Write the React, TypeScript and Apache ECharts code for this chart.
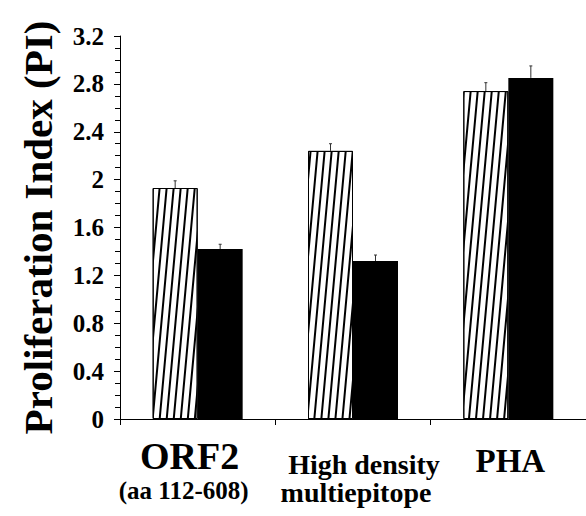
import React, { useEffect, useRef } from "react";
import * as echarts from "echarts";

const categories = ["ORF2", "High density", "PHA"];
const subLabels = ["(aa 112-608)", "multiepitope", ""];
const yTicks = { min: 0, max: 3.2, interval: 0.4 };
const hatchedValues = [1.93, 2.24, 2.74];
const hatchedErrors = [0.06, 0.06, 0.07];
const solidValues = [1.42, 1.32, 2.85];
const solidErrors = [0.04, 0.05, 0.1];
const yAxisTitle = "Proliferation Index (PI)";

const FONT = "'Liberation Serif', 'Times New Roman', serif";

export default function App() {
  const ref = useRef<HTMLDivElement>(null);
  useEffect(() => {
    document.body.style.margin = "0";
    if (!ref.current) return;
    const chart = echarts.init(ref.current, null, { renderer: "svg" });

    const errData = (vals: number[], errs: number[]) =>
      vals.map((v, i) => [i, v, errs[i]]);

    const makeErr = (offset: number) => (params: any, api: any) => {
      const i = api.value(0);
      const v = api.value(1);
      const e = api.value(2);
      const p0 = api.coord([i, v]);
      const p1 = api.coord([i, v + e]);
      const x = p0[0] + offset;
      return {
        type: "group",
        children: [
          {
            type: "line",
            shape: { x1: x, y1: p0[1], x2: x, y2: p1[1] },
            style: { stroke: "#333", lineWidth: 1 },
          },
          {
            type: "line",
            shape: { x1: x - 1.5, y1: p1[1], x2: x + 1.5, y2: p1[1] },
            style: { stroke: "#333", lineWidth: 1 },
          },
        ],
      };
    };

    chart.setOption({
      animation: false,
      backgroundColor: "#fff",
      grid: {
        left: 120,
        right: 0,
        top: 36,
        bottom: 97,
        outerBoundsMode: "none",
      },
      xAxis: {
        type: "category",
        data: categories,
        axisLine: { lineStyle: { color: "#000", width: 1 } },
        axisTick: { show: true, length: 6, lineStyle: { color: "#000" } },
        axisLabel: {
          margin: 26,
          interval: 0,
          color: "#000",
          fontFamily: FONT,
          fontWeight: "bold",
          formatter: (val: string, idx: number) => {
            if (idx === 0) return `{a|${val}}\n{b|${subLabels[idx]}}`;
            if (idx === 1) return `{c|${val}}\n{d|${subLabels[idx]}}`;
            return `{p|${val}}`;
          },
          rich: {
            a: { fontSize: 38, lineHeight: 22, fontWeight: "bold", fontFamily: FONT, color: "#000", padding: [0, 16, 0, 0] },
            b: { fontSize: 25, lineHeight: 46, fontWeight: "bold", fontFamily: FONT, color: "#000", padding: [0, 28, 0, 0] },
            c: { fontSize: 28, lineHeight: 38, fontWeight: "bold", fontFamily: FONT, color: "#000", padding: [0, 0, 0, 22] },
            d: { fontSize: 28, lineHeight: 18, fontWeight: "bold", fontFamily: FONT, color: "#000", padding: [0, 0, 0, 6] },
            p: { fontSize: 33, lineHeight: 32, fontWeight: "bold", fontFamily: FONT, color: "#000", padding: [0, 0, 0, 4] },
          },
        },
        splitLine: { show: false },
      },
      yAxis: {
        type: "value",
        min: yTicks.min,
        max: yTicks.max,
        interval: yTicks.interval,
        name: yAxisTitle,
        nameLocation: "middle",
        nameGap: 62,
        nameTextStyle: {
          fontSize: 41,
          fontWeight: "bold",
          fontFamily: FONT,
          color: "#000",
        },
        axisLine: { show: true, lineStyle: { color: "#000", width: 1 } },
        axisTick: { show: true, length: 6, lineStyle: { color: "#000" } },
        minorTick: { show: true, splitNumber: 4, length: 5, lineStyle: { color: "#000" } },
        splitLine: { show: false },
        axisLabel: {
          margin: 16,
          color: "#000",
          fontSize: 25,
          fontWeight: "bold",
          fontFamily: FONT,
        },
      },
      series: [
        {
          type: "bar",
          data: hatchedValues,
          barWidth: 45,
          barGap: "0%",
          itemStyle: {
            color: "#fff",
            borderColor: "#000",
            borderWidth: 1,
            decal: {
              symbol: "rect",
              symbolSize: 1,
              dashArrayX: [1, 0],
              dashArrayY: [1.2, 4.6],
              rotation: -1.48,
              color: "#000",
              backgroundColor: "#fff",
            },
          },
        },
        {
          type: "bar",
          data: solidValues,
          barWidth: 45,
          barGap: "0%",
          itemStyle: { color: "#000" },
        },
        {
          type: "custom",
          renderItem: makeErr(-22.5),
          data: errData(hatchedValues, hatchedErrors),
          encode: { x: 0, y: 1 },
          z: 5,
        },
        {
          type: "custom",
          renderItem: makeErr(22.5),
          data: errData(solidValues, solidErrors),
          encode: { x: 0, y: 1 },
          z: 5,
        },
      ],
    });
    return () => chart.dispose();
  }, []);
  return <div ref={ref} style={{ width: 586, height: 516 }} />;
}
